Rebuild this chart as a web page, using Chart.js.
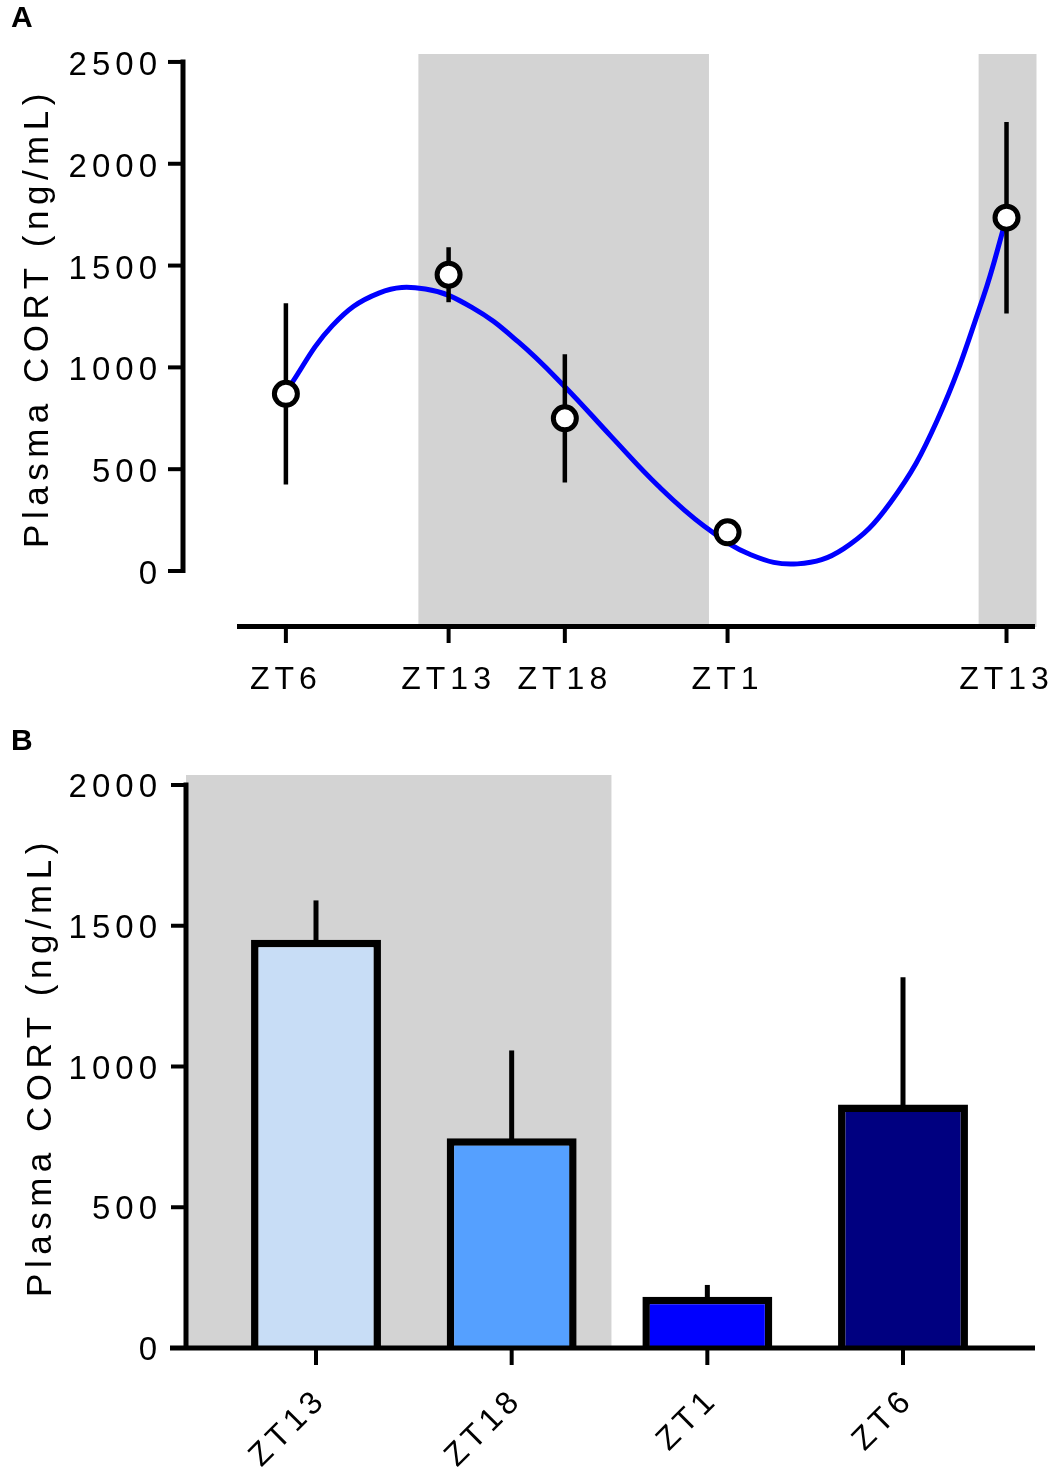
<!DOCTYPE html>
<html>
<head>
<meta charset="utf-8">
<script src="https://cdn.jsdelivr.net/npm/chart.js@4.4.1/dist/chart.umd.min.js"></script>
<style>
  body { margin: 0; background: #fff; }
  #wrap { position: relative; width: 1053px; height: 1473px; }
  canvas { position: absolute; left: 0; }
  .tag { position: absolute; left: 11px; font: bold 30px 'Liberation Sans', Arial, sans-serif; line-height: 32px; }
</style>
</head>
<body>
<div id="wrap">
  <canvas id="chartA" width="1053" height="715" style="top:0"></canvas>
  <canvas id="chartB" width="1053" height="758" style="top:715px"></canvas>
  <div class="tag" style="top:1px">A</div>
  <div class="tag" style="top:724px">B</div>
</div>
<script>
// Panel A: plasma CORT, mean +/- SEM, x in hours (ZT of day 1, continuing into day 2)
const pointHours = [6, 13, 18, 25, 37];
const pointMeans = [870, 1455, 750, 190, 1735];
const pointSem = [445, 135, 315, 40, 470];
const xTickHours = [6, 13, 18, 25, 37];
const xTickLabels = ['ZT6', 'ZT13', 'ZT18', 'ZT1', 'ZT13'];
const yTicksA = [0, 500, 1000, 1500, 2000, 2500];
// fitted curve
const curveHours = [6, 8, 10, 12, 14, 16, 18, 20, 22, 24, 26, 28, 30, 32, 34, 36, 37];
const curveValues = [880, 1205, 1365, 1385, 1295, 1125, 905, 660, 420, 220, 80, 35, 110, 335, 735, 1345, 1735];
// dark phase (grey bands)
const darkA = [[11.7, 24.2], [35.8, 38.3]];

// Panel B: same data as bars
const barLabels = ['ZT13', 'ZT18', 'ZT1', 'ZT6'];
const barMeans = [1450, 745, 182, 865];
const barSem = [140, 312, 42, 452];
const barColors = ['#c8ddf6', '#55a0ff', '#0000ff', '#000080'];
const yTicksB = [0, 500, 1000, 1500, 2000];
const darkB = [-0.7, 1.51];

const FONT = "'Liberation Sans', Arial, sans-serif";
const SPACING = '5px';
Chart.defaults.font.family = FONT;
Chart.defaults.color = '#000';

function drawYTitle(ctx, cx, cy) {
    ctx.save();
    ctx.translate(cx, cy);
    ctx.rotate(-Math.PI / 2);
    ctx.font = '35px ' + FONT;
    ctx.letterSpacing = '5.5px';
    ctx.textAlign = 'center';
    ctx.textBaseline = 'alphabetic';
    ctx.fillStyle = '#000';
    ctx.fillText('Plasma CORT (ng/mL)', 0, 0);
    ctx.restore();
}

function line(ctx, x0, y0, x1, y1, w) {
    ctx.beginPath();
    ctx.lineWidth = w;
    ctx.moveTo(x0, y0);
    ctx.lineTo(x1, y1);
    ctx.stroke();
}

// no extra padding from the labels, sizes are fixed by hand
function noPad(scale) {
    scale.paddingLeft = 0; scale.paddingRight = 0;
    scale.paddingTop = 0; scale.paddingBottom = 0;
}

const plain = v => String(v);

// ---------- Panel A ----------
const plotA = {
    id: 'plotA',
    beforeUpdate(chart) { chart.ctx.letterSpacing = SPACING; },
    beforeDraw(chart) {
        const { ctx, chartArea: a, scales: { x } } = chart;
        ctx.letterSpacing = SPACING;
        ctx.save();
        ctx.fillStyle = '#d3d3d3';
        darkA.forEach(([s, e]) => {
            const x0 = x.getPixelForValue(s);
            const x1 = Math.min(x.getPixelForValue(e), a.right);
            ctx.fillRect(x0, a.top, x1 - x0, a.bottom - a.top);
        });
        ctx.restore();
    },
    beforeDatasetDraw(chart, args) {
        if (args.index !== 0) return;
        const { ctx, scales: { x, y } } = chart;
        ctx.save();
        ctx.strokeStyle = '#000';
        pointHours.forEach((h, i) => {
            const px = x.getPixelForValue(h);
            line(ctx, px, y.getPixelForValue(pointMeans[i] - pointSem[i]),
                px, y.getPixelForValue(pointMeans[i] + pointSem[i]), 4.5);
        });
        ctx.restore();
    },
    afterDraw(chart) {
        const { ctx, chartArea: a, scales: { x, y } } = chart;
        ctx.save();
        ctx.strokeStyle = '#000';
        const ax = a.left - 55;
        line(ctx, ax, y.getPixelForValue(2500) - 2.5, ax, y.getPixelForValue(0) + 2, 5);
        yTicksA.forEach(v => line(ctx, ax - 15, y.getPixelForValue(v), ax, y.getPixelForValue(v), 4));
        const ay = a.bottom - 0.5;
        line(ctx, a.left - 1, ay, 1035, ay, 5);
        xTickHours.forEach(h => line(ctx, x.getPixelForValue(h), ay, x.getPixelForValue(h), ay + 16.5, 4));
        ctx.restore();
        drawYTitle(ctx, 48, 318);
    }
};

new Chart(document.getElementById('chartA'), {
    type: 'line',
    data: {
        datasets: [{
            data: pointHours.map((h, i) => ({ x: h, y: pointMeans[i] })),
            showLine: false,
            pointRadius: 11.5,
            pointBorderWidth: 5,
            pointBackgroundColor: '#fff',
            pointBorderColor: '#000'
        }, {
            data: curveHours.map((h, i) => ({ x: h, y: curveValues[i] })),
            borderColor: '#0000ff',
            borderWidth: 5,
            pointRadius: 0,
            tension: 0.4,
            fill: false
        }]
    },
    options: {
        responsive: false,
        animation: false,
        layout: { padding: { top: 54, right: 15, left: 0, bottom: 0 } },
        plugins: { legend: { display: false }, tooltip: { enabled: false } },
        scales: {
            x: {
                type: 'linear',
                min: 3.94,
                max: 38.29,
                afterBuildTicks: s => { s.ticks = xTickHours.map(v => ({ value: v })); },
                afterFit: s => { s.height = 88; noPad(s); },
                grid: { display: false, drawTicks: true, tickLength: 34 },
                border: { display: false },
                ticks: {
                    padding: 0,
                    font: { size: 32 },
                    maxRotation: 0,
                    autoSkip: false,
                    callback: (v, i) => xTickLabels[i]
                }
            },
            y: {
                min: -275,
                max: 2539,
                afterBuildTicks: s => { s.ticks = yTicksA.map(v => ({ value: v })); },
                afterFit: s => { s.width = 238; noPad(s); },
                grid: { display: false, drawTicks: false },
                border: { display: false },
                ticks: { padding: 76, labelOffset: 4, font: { size: 33 }, autoSkip: false, callback: plain }
            }
        }
    },
    plugins: [plotA]
});

// ---------- Panel B ----------
const plotB = {
    id: 'plotB',
    beforeUpdate(chart) { chart.ctx.letterSpacing = SPACING; },
    beforeDraw(chart) {
        const { ctx, chartArea: a, scales: { x } } = chart;
        ctx.letterSpacing = SPACING;
        ctx.save();
        ctx.fillStyle = '#d3d3d3';
        const x0 = Math.max(x.getPixelForValue(darkB[0]), a.left);
        const x1 = x.getPixelForValue(darkB[1]);
        ctx.fillRect(x0, a.top, x1 - x0, a.bottom - a.top);
        ctx.restore();
    },
    afterDatasetsDraw(chart) {
        const { ctx, scales: { x, y } } = chart;
        ctx.save();
        ctx.strokeStyle = '#000';
        barMeans.forEach((v, i) => {
            const px = x.getPixelForValue(i);
            line(ctx, px, y.getPixelForValue(v) + 2, px, y.getPixelForValue(v + barSem[i]), 5);
        });
        ctx.restore();
    },
    afterDraw(chart) {
        const { ctx, chartArea: a, scales: { x, y } } = chart;
        ctx.save();
        ctx.strokeStyle = '#000';
        const ax = a.left;
        const ay = y.getPixelForValue(0);
        line(ctx, ax, y.getPixelForValue(2000) - 2.5, ax, ay, 5);
        yTicksB.forEach(v => line(ctx, ax - 15, y.getPixelForValue(v), ax, y.getPixelForValue(v), 4));
        line(ctx, ax - 16, ay, 1035, ay, 5);
        barLabels.forEach((l, i) => line(ctx, x.getPixelForValue(i), ay, x.getPixelForValue(i), ay + 17, 4));
        ctx.restore();
        drawYTitle(ctx, 51, 352);
    }
};

new Chart(document.getElementById('chartB'), {
    type: 'bar',
    data: {
        datasets: [{
            data: barMeans.map((v, i) => ({ x: i, y: v })),
            backgroundColor: barColors,
            borderColor: '#000',
            borderWidth: 7.5,
            borderSkipped: 'start',
            barPercentage: 0.664,
            categoryPercentage: 1
        }]
    },
    options: {
        responsive: false,
        animation: false,
        layout: { padding: { top: 60, right: 18, left: 0, bottom: 0 } },
        plugins: { legend: { display: false }, tooltip: { enabled: false } },
        scales: {
            x: {
                type: 'linear',
                offset: false,
                min: -0.6644,
                max: 3.6746,
                afterBuildTicks: s => { s.ticks = barLabels.map((l, i) => ({ value: i })); },
                afterFit: s => { s.height = 125; noPad(s); },
                grid: { display: false, drawTicks: true, tickLength: 33 },
                border: { display: false },
                ticks: {
                    padding: 0,
                    labelOffset: 6,
                    font: { size: 32 },
                    minRotation: 45,
                    maxRotation: 45,
                    autoSkip: false,
                    callback: (v, i) => barLabels[i]
                }
            },
            y: {
                min: 0,
                max: 2035.5,
                afterBuildTicks: s => { s.ticks = yTicksB.map(v => ({ value: v })); },
                afterFit: s => { s.width = 186; noPad(s); },
                grid: { display: false, drawTicks: false },
                border: { display: false },
                ticks: { padding: 24, labelOffset: 3, font: { size: 33 }, autoSkip: false, callback: plain }
            }
        }
    },
    plugins: [plotB]
});
</script>
</body>
</html>
